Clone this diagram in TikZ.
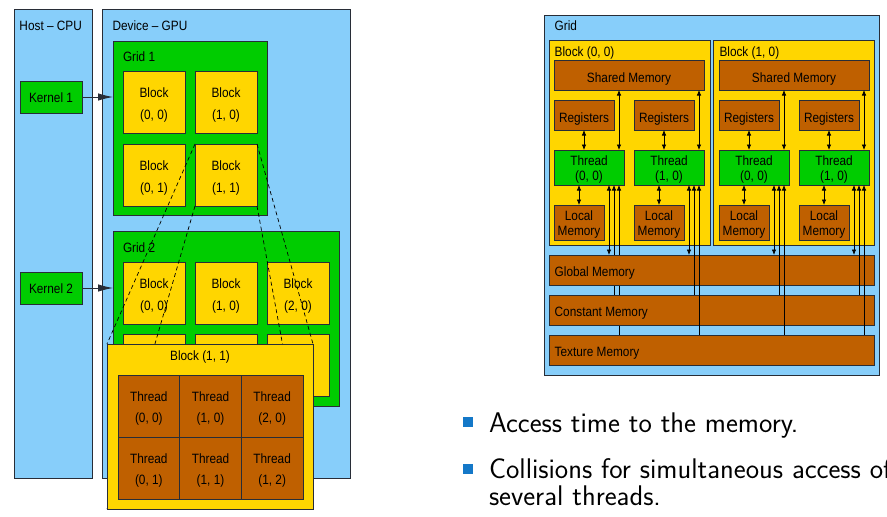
\documentclass[tikz,border=0pt]{standalone}
\usepackage{fontspec}
\newfontfamily\diag[FakeStretch=0.875]{Liberation Sans}
\usetikzlibrary{arrows.meta}
\definecolor{lblue}{RGB}{135,206,250}
\definecolor{ggreen}{RGB}{0,204,0}
\definecolor{gold}{RGB}{255,214,0}
\definecolor{brn}{RGB}{191,96,0}
\definecolor{bulblue}{RGB}{20,120,200}
\definecolor{edge}{RGB}{40,45,55}
% one or two centred lines, raised by given amounts, taking no height
\newcommand\onel[2]{\makebox[0pt]{\raisebox{#2}[0pt][0pt]{#1}}}
\newcommand\twol[4]{\makebox[0pt]{\raisebox{#3}[0pt][0pt]{#1}}\makebox[0pt]{\raisebox{#4}[0pt][0pt]{#2}}}
\newcommand\blk[2]{\twol{#1}{#2}{4.7pt}{-17.3pt}}
\newcommand\sml[2]{\twol{#1}{#2}{2pt}{-13pt}}
\newcommand\thrlines[2]{%
 \coordinate (#1a) at ([xshift=-15pt]#1.south east);
 \coordinate (#1b) at ([xshift=-10pt]#1.south east);
 \coordinate (#1c) at ([xshift=-5pt]#1.south east);
 \coordinate (#1d) at ([xshift=-5pt]#1.north east);
 \draw[dar] (#1d |- #2.south) -- (#1d);
 \draw[dar] (#1a) -- (#1a |- gmtop);
 \draw[uar] (#1b |- cmtop) -- (#1b);
 \draw[uar] (#1c |- tmtop) -- (#1c);
}
\begin{document}
\begin{tikzpicture}[x=1pt,y=-1pt,
  every node/.style={inner sep=0pt, outer sep=0pt},
  frame/.style={draw=edge, line width=0.9pt, fill=lblue},
  gbox/.style={draw=edge, line width=0.9pt, fill=ggreen},
  ybox/.style={draw=edge, line width=0.9pt, fill=gold},
  bbox/.style={draw=edge, line width=0.9pt, fill=brn},
  lab/.style={font=\diag\fontsize{13.5}{16}\selectfont},
  kar/.style={line width=0.9pt, draw=edge, -{Latex[length=15pt,width=7.5pt]}},
  dar/.style={line width=0.7pt, {Latex[length=5.5pt,width=4.5pt]}-{Latex[length=5.5pt,width=4.5pt]}},
  uar/.style={line width=0.7pt, -{Latex[length=5.5pt,width=4.5pt]}},
  guide/.style={line width=0.7pt, dash pattern=on 4pt off 3pt},
  bul/.style={font=\sffamily\fontsize{28.4}{30}\selectfont, anchor=base west},
  sq/.style={fill=bulblue, minimum size=10pt}
]
\clip (0,0) rectangle (887,517);

% ---------------- left diagram ----------------
\node[frame, minimum width=78, minimum height=469] (host) at (53,243.5) {};
\node[lab, anchor=base west] (hostl) at (19.5,30.7) {Host – CPU};
\node[frame, minimum width=248, minimum height=469] (dev) at (226,243.5) {};
\node[lab, anchor=base west] (devl) at (112.5,30.7) {Device – GPU};

\node[gbox, lab, minimum width=62, minimum height=32] (k1) at (51,97) {\onel{Kernel 1}{-5.5pt}};
\node[gbox, lab, minimum width=62, minimum height=32] (k2) at (51,288) {\onel{Kernel 2}{-5.5pt}};

% grid 1
\node[gbox, minimum width=154, minimum height=174] (g1) at (190,128) {};
\node[lab, anchor=base west] (g1l) at (123,61.7) {Grid 1};
\node[ybox, lab, minimum width=62, minimum height=62] (ga00) at (154,102) {\blk{Block}{(0, 0)}};
\node[ybox, lab, minimum width=62, minimum height=62] (ga10) at (226,102) {\blk{Block}{(1, 0)}};
\node[ybox, lab, minimum width=62, minimum height=62] (ga01) at (154,175) {\blk{Block}{(0, 1)}};
\node[ybox, lab, minimum width=62, minimum height=62] (ga11) at (226,175) {\blk{Block}{(1, 1)}};

% grid 2
\node[gbox, minimum width=226, minimum height=175] (g2) at (226,318.5) {};
\node[lab, anchor=base west] (g2l) at (123,252.3) {Grid 2};
\node[ybox, lab, minimum width=62, minimum height=62] (gb00) at (154,293) {\blk{Block}{(0, 0)}};
\node[ybox, lab, minimum width=62, minimum height=62] (gb10) at (226,293) {\blk{Block}{(1, 0)}};
\node[ybox, lab, minimum width=62, minimum height=62] (gb20) at (298,293) {\blk{Block}{(2, 0)}};
\node[ybox, minimum width=62, minimum height=62] (gb01) at (154,365) {};
\node[ybox, minimum width=62, minimum height=62] (gb11) at (226,365) {};
\node[ybox, minimum width=62, minimum height=62] (gb21) at (298,365) {};

\draw[kar] (k1.east) -- (k1.east -| g1.west);
\draw[kar] (k2.east) -- (k2.east -| g2.west);

% zoomed block
\coordinate (bbnw) at (107,344);
\coordinate (bbne) at (313,344);
\coordinate (bbsw) at (107,509);
\coordinate (bbse) at (313,509);
\draw[guide] (ga11.north west) -- (bbnw);
\draw[guide] (ga11.south west) -- (bbsw);
\draw[guide] (ga11.north east) -- (bbne);
\draw[guide] (ga11.south east) -- (bbse);
\node[ybox, minimum width=206, minimum height=165] (bb) at (210,426.5) {};
\node[lab, anchor=base] (bbl) at (200,360.3) {Block (1, 1)};
\node[bbox, lab, minimum width=61.67, minimum height=62] (t00) at (148.83,406) {\twol{Thread}{(0, 0)}{4.4pt}{-16.3pt}};
\node[bbox, lab, minimum width=61.67, minimum height=62] (t10) at (210.5,406) {\twol{Thread}{(1, 0)}{4.4pt}{-16.3pt}};
\node[bbox, lab, minimum width=61.67, minimum height=62] (t20) at (272.17,406) {\twol{Thread}{(2, 0)}{4.4pt}{-16.3pt}};
\node[bbox, lab, minimum width=61.67, minimum height=62] (t01) at (148.83,468) {\twol{Thread}{(0, 1)}{4.4pt}{-16.3pt}};
\node[bbox, lab, minimum width=61.67, minimum height=62] (t11) at (210.5,468) {\twol{Thread}{(1, 1)}{4.4pt}{-16.3pt}};
\node[bbox, lab, minimum width=61.67, minimum height=62] (t21) at (272.17,468) {\twol{Thread}{(1, 2)}{4.4pt}{-16.3pt}};

% ---------------- right diagram ----------------
\node[frame, minimum width=335, minimum height=360] (rg) at (711.5,195) {};
\node[lab, anchor=base west] (rgl) at (554.7,30.7) {Grid};
\node[ybox, minimum width=161, minimum height=205] (rb0) at (629.5,142.5) {};
\node[ybox, minimum width=161, minimum height=205] (rb1) at (794,142.5) {};
\node[lab, anchor=base west] (rb0l) at (554.7,56.3) {Block (0, 0)};
\node[lab, anchor=base west] (rb1l) at (719.5,56.3) {Block (1, 0)};

\node[bbox, lab, minimum width=150, minimum height=30] (sh0) at (629,75) {\onel{Shared Memory}{-7pt}};
\node[bbox, lab, minimum width=150, minimum height=30] (sh1) at (794,75) {\onel{Shared Memory}{-7pt}};

\node[bbox, lab, minimum width=60, minimum height=30] (r1) at (584,115) {\onel{Registers}{-7pt}};
\node[bbox, lab, minimum width=60, minimum height=30] (r2) at (664,115) {\onel{Registers}{-7pt}};
\node[bbox, lab, minimum width=60, minimum height=30] (r3) at (749,115) {\onel{Registers}{-7pt}};
\node[bbox, lab, minimum width=60, minimum height=30] (r4) at (829,115) {\onel{Registers}{-7pt}};

\node[gbox, lab, minimum width=70, minimum height=35] (th1) at (589,167.5) {\sml{Thread}{(0, 0)}};
\node[gbox, lab, minimum width=70, minimum height=35] (th2) at (669,167.5) {\sml{Thread}{(1, 0)}};
\node[gbox, lab, minimum width=70, minimum height=35] (th3) at (754,167.5) {\sml{Thread}{(0, 0)}};
\node[gbox, lab, minimum width=70, minimum height=35] (th4) at (834,167.5) {\sml{Thread}{(1, 0)}};

\node[bbox, lab, minimum width=50, minimum height=35] (lm1) at (579,222.5) {\sml{Local}{Memory}};
\node[bbox, lab, minimum width=50, minimum height=35] (lm2) at (659,222.5) {\sml{Local}{Memory}};
\node[bbox, lab, minimum width=50, minimum height=35] (lm3) at (744,222.5) {\sml{Local}{Memory}};
\node[bbox, lab, minimum width=50, minimum height=35] (lm4) at (824,222.5) {\sml{Local}{Memory}};

\foreach \r/\t/\l in {r1/th1/lm1, r2/th2/lm2, r3/th3/lm3, r4/th4/lm4}{
  \draw[dar] (\r.south) -- (\r.south |- \t.north);
  \draw[dar] (\l.north |- \t.south) -- (\l.north);
}

\coordinate (gmtop) at (711.5,255);
\coordinate (cmtop) at (711.5,295);
\coordinate (tmtop) at (711.5,335);

\thrlines{th1}{sh0}

\node[bbox, minimum width=325, minimum height=30] (gm) at (711.5,270) {};
\node[bbox, minimum width=325, minimum height=30] (cm) at (711.5,310) {};
\node[bbox, minimum width=325, minimum height=30] (tm) at (711.5,350) {};
\node[lab, anchor=base west] (gml) at (554.7,276.7) {Global Memory};
\node[lab, anchor=base west] (cml) at (554.7,316.7) {Constant Memory};
\node[lab, anchor=base west] (tml) at (554.7,356.7) {Texture Memory};

\thrlines{th2}{sh0}
\thrlines{th3}{sh1}
\thrlines{th4}{sh1}

% ---------------- bullets ----------------
\node[sq] (sq1) at (468.3,422.3) {};
\node[bul] (bt1) at (489,432) {Access time to the memory.};
\node[sq] (sq2) at (468.3,469) {};
\node[bul] (bt2) at (489,478) {Collisions for simultaneous access of};
\node[bul] (bt3) at (489,505) {several threads.};
\end{tikzpicture}
\end{document}
